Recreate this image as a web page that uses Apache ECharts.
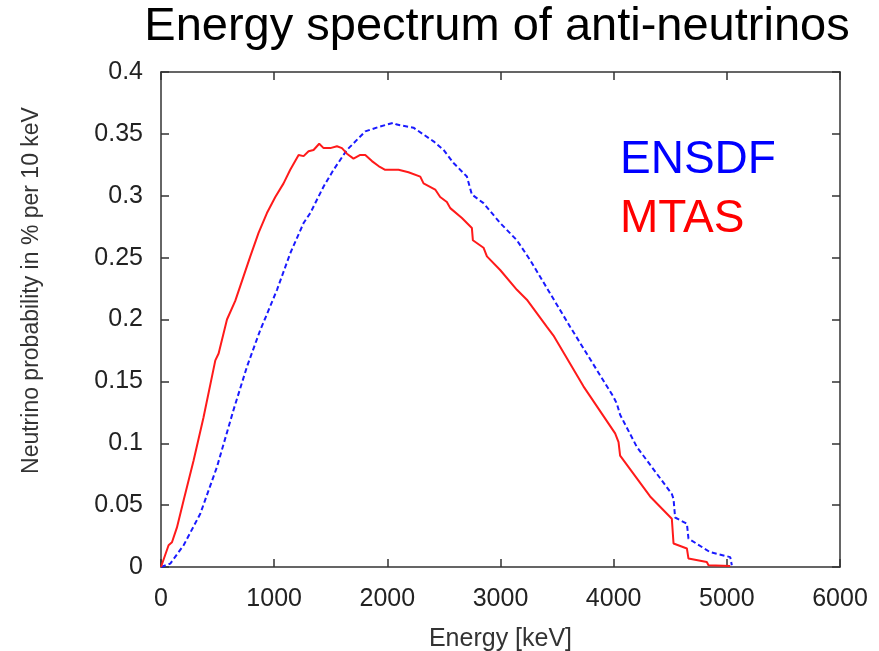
<!DOCTYPE html>
<html>
<head>
<meta charset="utf-8">
<script src="https://cdn.jsdelivr.net/npm/echarts@6/dist/echarts.min.js"></script>
<style>html,body{margin:0;padding:0;background:#fff;}#c{width:879px;height:651px;}</style>
</head>
<body>
<div id="c"></div>
<script>
const titleText = 'Energy spectrum of anti-neutrinos';
const xAxisName = 'Energy [keV]';
const yAxisName = 'Neutrino probability in % per 10 keV';
const seriesNames = ['ENSDF', 'MTAS'];

const mtasEnergy = [0,67,97,141,200,288,376,480,509,583,656,730,789,862,936,1010,1083,1142,1216,1260,1304,1348,1398,1437,1496,1555,1599,1643,1701,1761,1805,1864,1922,1981,2099,2187,2291,2320,2423,2467,2526,2556,2659,2747,2756,2850,2880,2997,3145,3233,3410,3468,3733,4013,4043,4057,4322,4514,4529,4647,4661,4823,4838,5030];
const mtasProb = [0,0.0176,0.020,0.032,0.054,0.086,0.121,0.167,0.1725,0.200,0.215,0.235,0.251,0.270,0.286,0.299,0.310,0.321,0.333,0.332,0.336,0.337,0.342,0.3385,0.3385,0.340,0.3385,0.334,0.330,0.333,0.333,0.328,0.324,0.321,0.321,0.319,0.3155,0.310,0.305,0.299,0.295,0.290,0.282,0.274,0.264,0.258,0.251,0.240,0.224,0.216,0.194,0.187,0.146,0.108,0.101,0.090,0.057,0.039,0.019,0.015,0.0068,0.004,0.0014,0.0008];

const ensdfEnergy = [0,82,200,347,495,641,760,877,921,1025,1142,1260,1319,1437,1525,1643,1805,1937,2055,2085,2231,2408,2497,2585,2703,2747,2850,2997,3145,3262,3439,3616,3998,4028,4057,4205,4514,4529,4543,4647,4661,4852,5030,5044];
const ensdfProb = [0,0.0027,0.0176,0.043,0.081,0.127,0.162,0.1915,0.201,0.224,0.2535,0.278,0.286,0.3075,0.321,0.337,0.352,0.356,0.359,0.3575,0.355,0.344,0.337,0.3265,0.3155,0.301,0.294,0.278,0.264,0.248,0.221,0.194,0.1375,0.132,0.123,0.097,0.059,0.055,0.040,0.035,0.023,0.012,0.008,0.0014];

const xMin = 0, xMax = 6000, xStep = 1000;
const yMin = 0, yMax = 0.4, yStep = 0.05;

const zip = (a, b) => a.map((v, i) => [v, b[i]]);
const font = 'Liberation Sans, Arial, sans-serif';
const axisLineStyle = { color: '#333', width: 1.5 };

const chart = echarts.init(document.getElementById('c'), null, { renderer: 'canvas' });
chart.setOption({
  animation: false,
  backgroundColor: '#fff',
  title: {
    text: titleText, left: 492, top: -1, textAlign: 'center',
    textStyle: { fontFamily: font, fontSize: 47, fontWeight: 'normal', color: '#000' }
  },
  grid: { left: 161, right: 39, top: 72, bottom: 84, containLabel: false, outerBoundsMode: 'none' },
  xAxis: [{
    type: 'value', min: xMin, max: xMax, interval: xStep,
    name: xAxisName, nameLocation: 'middle', nameGap: 60,
    nameTextStyle: { fontFamily: font, fontSize: 25, color: '#333' },
    axisLine: { onZero: false, lineStyle: axisLineStyle },
    axisTick: { inside: true, length: 8, lineStyle: axisLineStyle },
    axisLabel: { fontFamily: font, fontSize: 25, color: '#222', margin: 20, formatter: v => String(v) },
    splitLine: { show: false }
  }, {
    type: 'value', position: 'top', min: xMin, max: xMax, interval: xStep,
    axisLine: { show: true, onZero: false, lineStyle: axisLineStyle },
    axisTick: { show: true, inside: true, length: 8, lineStyle: axisLineStyle },
    axisLabel: { show: false }, splitLine: { show: false }
  }],
  yAxis: [{
    type: 'value', min: yMin, max: yMax, interval: yStep,
    name: yAxisName, nameLocation: 'middle', nameGap: 118,
    nameTextStyle: { fontFamily: font, fontSize: 23, color: '#333', padding: [0, 0, 0, 58] },
    axisLine: { show: true, onZero: false, lineStyle: axisLineStyle },
    axisTick: { inside: true, length: 8, lineStyle: axisLineStyle },
    axisLabel: { fontFamily: font, fontSize: 25, color: '#222', margin: 18 },
    splitLine: { show: false }
  }, {
    type: 'value', position: 'right', min: yMin, max: yMax, interval: yStep,
    axisLine: { show: true, onZero: false, lineStyle: axisLineStyle },
    axisTick: { show: true, inside: true, length: 8, lineStyle: axisLineStyle },
    axisLabel: { show: false }, splitLine: { show: false }
  }],
  graphic: [
    { type: 'text', left: 620, top: 137, style: { text: seriesNames[0], font: '46px ' + font, fill: '#0000ff' } },
    { type: 'text', left: 620, top: 196, style: { text: seriesNames[1], font: '46px ' + font, fill: '#ff0000' } }
  ],
  series: [{
    name: seriesNames[0], type: 'line', showSymbol: false, symbol: 'none',
    data: zip(ensdfEnergy, ensdfProb),
    lineStyle: { color: '#1a1aff', width: 2, type: [5, 3] }, z: 3
  }, {
    name: seriesNames[1], type: 'line', showSymbol: false, symbol: 'none',
    data: zip(mtasEnergy, mtasProb),
    lineStyle: { color: '#ff1a1a', width: 2 }, z: 4
  }]
});
</script>
</body>
</html>
